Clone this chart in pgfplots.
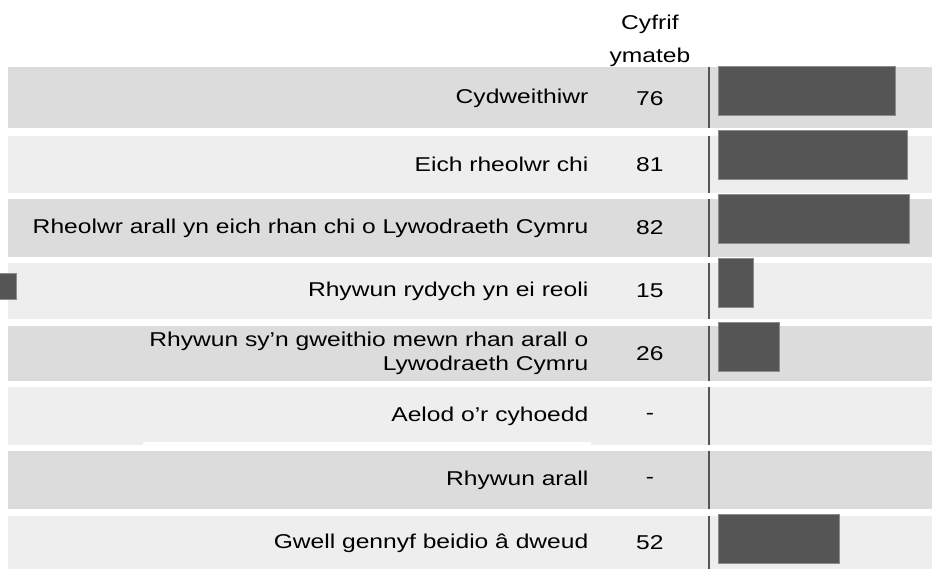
\documentclass[border=0pt]{standalone}
\usepackage{pgfplots}
\pgfplotsset{compat=1.18}
\usepackage{fontspec}
\setmainfont{Liberation Sans}[FakeStretch=1.23]
\definecolor{bandA}{HTML}{DCDCDC}
\definecolor{bandB}{HTML}{EEEEEE}
\definecolor{barc}{HTML}{555555}
\definecolor{bard}{HTML}{8C8C8C}
\definecolor{txt}{HTML}{595959}
\definecolor{vline}{HTML}{555555}
\begin{document}
\begin{tikzpicture}
\begin{axis}[
 width=466pt, height=284.5pt, scale only axis,
 xmin=-307.6, xmax=91.5, ymin=0, ymax=569, y dir=reverse,
 hide axis, xbar, bar width=49, bar shift=0pt,
 every node/.style={font=\fontsize{12}{13.5}\selectfont, text=txt},
]
% row bands
\fill[bandA] (axis cs:-304.2,67) rectangle (axis cs:91.5,128);
\fill[bandB] (axis cs:-304.2,136) rectangle (axis cs:91.5,193);
\fill[bandA] (axis cs:-304.2,199) rectangle (axis cs:91.5,257);
\fill[bandB] (axis cs:-304.2,263) rectangle (axis cs:91.5,319);
\fill[bandA] (axis cs:-304.2,326) rectangle (axis cs:91.5,381);
\fill[bandB] (axis cs:-304.2,387) rectangle (axis cs:91.5,445);
\fill[white] (axis cs:-246.3,442) rectangle (axis cs:-54.6,445);
\fill[bandA] (axis cs:-304.2,451) rectangle (axis cs:91.5,509);
\fill[bandB] (axis cs:-304.2,516) rectangle (axis cs:91.5,569);
% stray marker
\fill[barc, draw=bard, line width=0.5pt] (axis cs:-308,273.5) rectangle (axis cs:-300.5,299);
% vertical separator segments
\foreach \a/\b in {67/128,136/193,199/257,263/319,326/381,387/445,451/509,516/569}
  {\edef\tmp{\noexpand\draw[vline, line width=1pt] (axis cs:-4,\a) -- (axis cs:-4,\b);}\tmp}
% bars
\addplot[fill=barc, draw=bard, line width=0.5pt] coordinates {
 (76,90.5) (81,154.5) (82,218.5) (15,282.5) (26,346.5) (52,538.5)};
% header
\node[anchor=center] at (axis cs:-29.3,24) {Cyfrif};
\node[anchor=center] at (axis cs:-29.3,57) {ymateb};
% labels
\begin{scope}[every node/.append style={anchor=east, inner xsep=0pt}]
\node at (axis cs:-55.5,98.5) {Cydweithiwr};
\node at (axis cs:-55.5,164.5) {Eich rheolwr chi};
\node at (axis cs:-55.5,228) {Rheolwr arall yn eich rhan chi o Lywodraeth Cymru};
\node at (axis cs:-55.5,291) {Rhywun rydych yn ei reoli};
\node[align=right] at (axis cs:-55.5,353.5) {Rhywun sy’n gweithio mewn rhan arall o\\Lywodraeth Cymru};
\node at (axis cs:-55.5,416) {Aelod o’r cyhoedd};
\node at (axis cs:-55.5,480) {Rhywun arall};
\node at (axis cs:-55.5,543) {Gwell gennyf beidio â dweud};
\end{scope}
% counts
\node at (axis cs:-29.3,98.5) {76};
\node at (axis cs:-29.3,164.5) {81};
\node at (axis cs:-29.3,228) {82};
\node at (axis cs:-29.3,291) {15};
\node at (axis cs:-29.3,353.5) {26};
\node at (axis cs:-29.3,416) {-};
\node at (axis cs:-29.3,480) {-};
\node at (axis cs:-29.3,543) {52};
\end{axis}
\pgfresetboundingbox
\path (current axis.south west) rectangle (current axis.north east);
\end{tikzpicture}
\end{document}
